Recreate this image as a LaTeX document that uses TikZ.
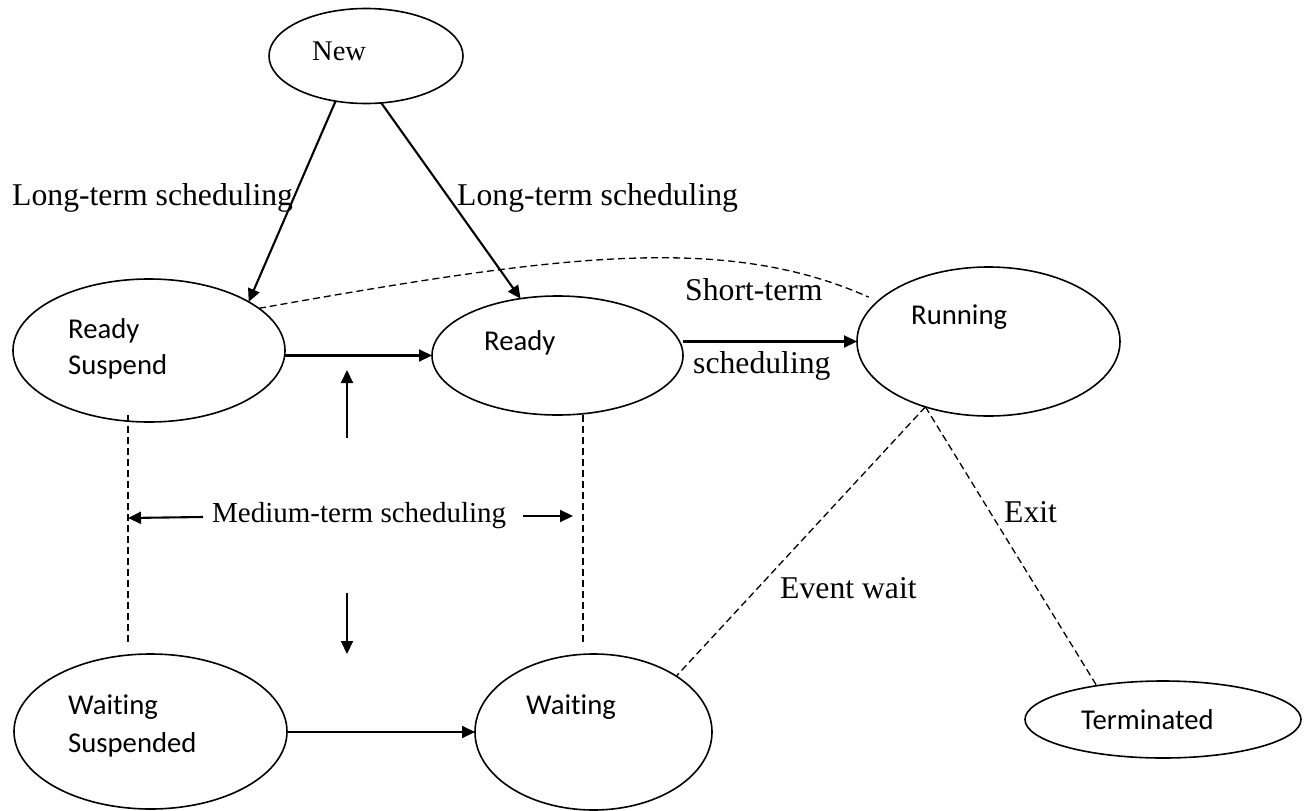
\documentclass[tikz,border=0pt]{standalone}
\usepackage{fontspec}
\setmainfont{Liberation Serif}
\newfontfamily\statefont{Carlito}[Ligatures={NoCommon}]
\usetikzlibrary{arrows.meta,shapes.geometric}

\begin{document}
\begin{tikzpicture}[x=1pt,y=-1pt,
  state/.style={draw, ellipse, line width=1.6pt, inner sep=0pt, outer sep=0pt},
  stxt/.style={anchor=base west, inner sep=0pt, font=\statefont\fontsize{28.7}{34}\selectfont},
  ltxt/.style={anchor=base west, inner sep=0pt, font=\fontsize{31.7}{38}\selectfont},
  flow/.style={line width=2.1pt, -{Triangle[length=13pt,width=12pt]}},
  link/.style={line width=1.3pt, dash pattern=on 7pt off 4pt}]

\useasboundingbox (0,0) rectangle (1304,811);

% process states
\node[state, minimum width=194pt, minimum height=95pt]  (new)   at (366,56)      {};
\node[state, minimum width=272pt, minimum height=143pt] (rs)    at (149,350.5)   {};
\node[state, minimum width=251pt, minimum height=119pt] (ready) at (557.5,355.5) {};
\node[state, minimum width=263pt, minimum height=149pt] (run)   at (988.5,341.5) {};
\node[state, minimum width=273pt, minimum height=155pt] (ws)    at (150.5,731.5) {};
\node[state, minimum width=237pt, minimum height=156pt] (wait)  at (593.5,732)   {};
\node[state, minimum width=276pt, minimum height=77pt]  (term)  at (1163,719.5)  {};

% state names
\node[ltxt, font=\fontsize{28.5}{34}\selectfont] (newlbl) at (312,60) {New};
\node[stxt] (rs1) at (68,338)    {Ready};
\node[stxt] (rs2) at (68,374)    {Suspend};
\node[stxt] (rd)  at (484,350.5) {Ready};
\node[stxt] (rn)  at (911,324)   {Running};
\node[stxt] (ws1) at (68,714)    {Waiting};
\node[stxt] (ws2) at (68,752)    {Suspended};
\node[stxt] (wt)  at (526,714)   {Waiting};
\node[stxt] (tm)  at (1081,729)  {Terminated};

% transition labels
\node[ltxt] (lt1) at (12,205)  {Long-term scheduling};
\node[ltxt] (lt2) at (457,205) {Long-term scheduling};
\node[ltxt] (st1) at (685,300) {Short-term};
\node[ltxt] (st2) at (693,373) {scheduling};
\node[ltxt, font=\fontsize{29}{35}\selectfont] (mt) at (212,522) {Medium-term scheduling};
\node[ltxt] (ex)  at (1004,522) {Exit};
\node[ltxt] (ev)  at (780,598)  {Event wait};

% free ends of the medium-term arrows and guide lines
\coordinate (upS) at (347,438);
\coordinate (upE) at (347,370);
\coordinate (dnS) at (347,593);
\coordinate (dnE) at (347,654);
\coordinate (lfS) at (203,517);
\coordinate (lfE) at (128,518);
\coordinate (rtS) at (523,516);
\coordinate (rtE) at (573,516);
\coordinate (lx) at (128,0);
\coordinate (rx) at (583,0);

% solid transitions
\draw[flow] (new.236) -- (rs.26);
\draw[flow] (new.288) -- (ready.123);
\draw[flow] (rs.east |- ready.west) -- (ready.west);
\draw[flow] (ready.east |- run.west) -- (run.west);
\draw[flow] (ws.east |- wait.west) -- (wait.west);
\draw[flow] (upS) -- (upE);
\draw[flow] (dnS) -- (dnE);
\draw[flow] (lfS) -- (lfE);
\draw[flow] (rtS) -- (rtE);

% dashed transitions
\draw[link] ([yshift=7pt]rs.south -| lx) -- ([yshift=9pt]ws.north -| lx);
\draw[link] (ready.south -| rx) -- ([yshift=8pt]wait.north -| rx);
\draw[link, shorten >=10pt] (rs.21) .. controls (554,256) and (723,232) .. (run.160);
\draw[link] (run.226) -- (wait.34);
\draw[link] (run.226) -- (term.153);

\end{tikzpicture}
\end{document}
